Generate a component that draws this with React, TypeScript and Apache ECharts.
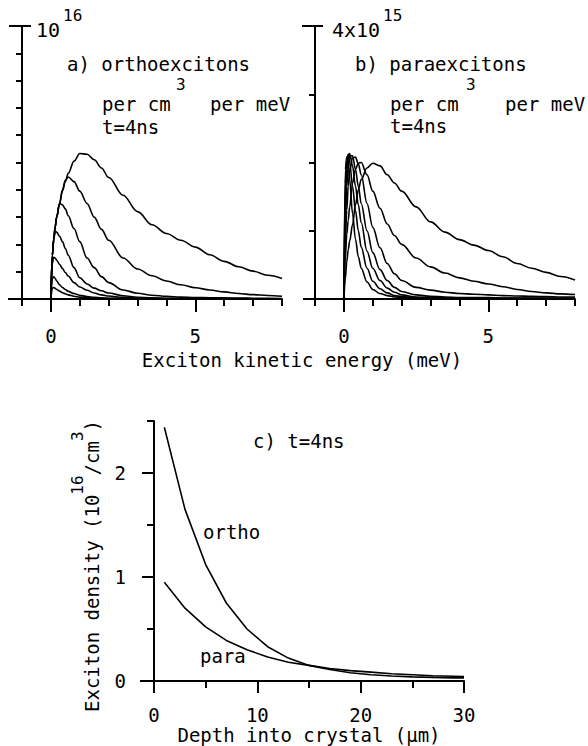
import { useEffect, useRef } from "react";
import * as echarts from "echarts";

// Exciton kinetic energy grid (meV)
const energy = [0, 0.05, 0.1, 0.15, 0.2, 0.3, 0.4, 0.5, 0.6, 0.8, 1, 1.25, 1.5, 1.75, 2, 2.5, 3, 3.5, 4, 4.5, 5, 5.5, 6, 6.5, 7, 7.5, 8];

// a) orthoexcitons, units of 1e15 per cm^3 per meV
const orthoA1 = [0, 1.6, 2.2, 2.65, 3.0, 3.5, 3.95, 4.3, 4.6, 5.05, 5.33, 5.3, 5.1, 4.8, 4.45, 3.8, 3.2, 2.72, 2.4, 2.15, 1.9, 1.62, 1.38, 1.18, 1.02, 0.87, 0.75];
const orthoA2 = [0, 1.6, 2.2, 2.65, 3.0, 3.5, 4.0, 4.35, 4.47, 4.3, 3.95, 3.5, 3.0, 2.55, 2.15, 1.5, 1.1, 0.85, 0.66, 0.52, 0.41, 0.33, 0.26, 0.2, 0.16, 0.13, 0.1];
const orthoA3 = [0, 1.6, 2.2, 2.65, 3.0, 3.5, 3.45, 3.3, 3.05, 2.58, 2.1, 1.5, 1.15, 0.82, 0.6, 0.33, 0.21, 0.14, 0.1, 0.07, 0.055, 0.045, 0.04, 0.035, 0.03, 0.025, 0.02];
const orthoA4 = [0, 1.6, 2.2, 2.48, 2.45, 2.3, 2.1, 1.85, 1.6, 1.15, 0.78, 0.55, 0.4, 0.3, 0.22, 0.12, 0.06, 0.04, 0.03, 0.025, 0.02, 0.02, 0.015, 0.015, 0.01, 0.01, 0.01];
const orthoA5 = [0, 1.3, 1.53, 1.5, 1.42, 1.27, 1.12, 0.97, 0.84, 0.6, 0.44, 0.32, 0.22, 0.15, 0.11, 0.06, 0.03, 0.02, 0.015, 0.01, 0.01, 0.01, 0.01, 0.01, 0.01, 0.01, 0.01];
const orthoA6 = [0, 0.75, 0.81, 0.75, 0.66, 0.52, 0.42, 0.35, 0.28, 0.2, 0.14, 0.09, 0.06, 0.04, 0.03, 0.02, 0.015, 0.01, 0.01, 0.01, 0.008, 0.008, 0.006, 0.006, 0.005, 0.005, 0.005];
const orthoA7 = [0, 0.4, 0.42, 0.39, 0.35, 0.29, 0.23, 0.19, 0.15, 0.1, 0.07, 0.05, 0.03, 0.02, 0.015, 0.01, 0.008, 0.006, 0.005, 0.005, 0.004, 0.004, 0.003, 0.003, 0.003, 0.003, 0.003];

// b) paraexcitons, units of 1e15 per cm^3 per meV
const paraB1 = [0, 0.3, 0.55, 0.72, 0.85, 1.09, 1.38, 1.6, 1.75, 1.92, 1.99, 1.95, 1.82, 1.7, 1.58, 1.35, 1.13, 0.98, 0.87, 0.79, 0.71, 0.62, 0.52, 0.45, 0.39, 0.33, 0.28];
const paraB2 = [0, 0.6, 0.95, 1.15, 1.35, 1.7, 1.9, 1.99, 2.0, 1.82, 1.58, 1.33, 1.1, 0.93, 0.8, 0.6, 0.47, 0.38, 0.31, 0.26, 0.22, 0.18, 0.14, 0.11, 0.09, 0.075, 0.065];
const paraB3 = [0, 0.85, 1.3, 1.65, 1.88, 2.07, 2.08, 1.98, 1.82, 1.4, 1.05, 0.75, 0.52, 0.37, 0.27, 0.17, 0.13, 0.1, 0.08, 0.07, 0.06, 0.05, 0.045, 0.04, 0.035, 0.03, 0.03];
const paraB4 = [0, 1.1, 1.65, 1.95, 2.1, 2.1, 1.9, 1.65, 1.4, 1.0, 0.68, 0.43, 0.27, 0.17, 0.11, 0.06, 0.04, 0.03, 0.02, 0.02, 0.02, 0.015, 0.015, 0.015, 0.01, 0.01, 0.01];
const paraB5 = [0, 1.4, 1.9, 2.1, 2.13, 1.95, 1.65, 1.38, 1.12, 0.7, 0.45, 0.27, 0.16, 0.1, 0.06, 0.03, 0.02, 0.015, 0.01, 0.01, 0.01, 0.01, 0.01, 0.01, 0.01, 0.01, 0.01];
const paraB6 = [0, 1.7, 2.05, 2.12, 2.0, 1.65, 1.3, 1.0, 0.76, 0.45, 0.26, 0.15, 0.09, 0.05, 0.035, 0.02, 0.01, 0.01, 0.008, 0.008, 0.006, 0.006, 0.005, 0.005, 0.005, 0.005, 0.005];
const paraB7 = [0, 1.9, 2.08, 2.0, 1.75, 1.25, 0.88, 0.62, 0.45, 0.25, 0.14, 0.08, 0.05, 0.03, 0.02, 0.01, 0.008, 0.006, 0.005, 0.005, 0.004, 0.004, 0.004, 0.003, 0.003, 0.003, 0.003];

// c) density vs depth (1e16 / cm^3)
const depth = [1, 3, 5, 7, 9, 11, 13, 15, 17, 19, 21, 23, 25, 27, 29, 30];
const orthoDensity = [2.44, 1.65, 1.12, 0.75, 0.5, 0.33, 0.22, 0.15, 0.11, 0.08, 0.06, 0.048, 0.04, 0.035, 0.03, 0.03];
const paraDensity = [0.95, 0.7, 0.52, 0.39, 0.3, 0.23, 0.18, 0.15, 0.12, 0.1, 0.085, 0.07, 0.06, 0.05, 0.045, 0.042];

const energyMajorTicks = [0, 5];
const depthMajorTicks = [0, 10, 20, 30];
const densityMajorTicks = [0, 1, 2];

const orthoSeries = [orthoA1, orthoA2, orthoA3, orthoA4, orthoA5, orthoA6, orthoA7];
const paraSeries = [paraB1, paraB2, paraB3, paraB4, paraB5, paraB6, paraB7];

const FONT = "'DejaVu Sans Mono', monospace";
const INK = "#000";
const FS = 19;

function zip(xs: number[], ys: number[]) {
  return xs.map((x, i) => [x, ys[i]]);
}

function minorXAxis(grid: number, min: number, max: number, interval: number, labels: number[], margin: number) {
  return {
    type: "value", gridIndex: grid, min, max, interval, position: "bottom",
    axisLine: { show: true, onZero: false, lineStyle: { color: INK, width: 2 } },
    axisTick: { show: true, inside: false, length: 7, lineStyle: { color: INK, width: 2 } },
    axisLabel: {
      show: true, margin, color: INK, fontFamily: FONT, fontSize: FS,
      formatter: (v: number) => (labels.indexOf(v) >= 0 ? String(v) : ""),
    },
    splitLine: { show: false },
  };
}
function majorXAxis(grid: number, min: number, max: number, ticks: number[], len: number) {
  return {
    type: "value", gridIndex: grid, min, max, position: "bottom",
    axisLine: { show: false, onZero: false },
    axisTick: { show: true, inside: false, length: len, customValues: ticks, lineStyle: { color: INK, width: 2 } },
    axisLabel: { show: false },
    splitLine: { show: false },
  };
}

const lineStyle = { color: INK, width: 1.6 };

function curve(x: number, y: number, data: number[][], smooth: boolean) {
  return {
    type: "line", xAxisIndex: x, yAxisIndex: y, data, showSymbol: false, symbol: "none",
    smooth: smooth ? 0.35 : false, smoothMonotone: smooth ? "x" : undefined,
    lineStyle, silent: true,
  };
}

const T = (text: string, x: number, y: number, size = FS, extra: any = {}) => ({
  type: "text", x, y, silent: true,
  style: { text, fill: INK, font: `${size}px ${FONT}`, align: "left", verticalAlign: "middle", ...extra },
});
const L = (x1: number, y1: number, x2: number, y2: number) => ({
  type: "line", silent: true, shape: { x1, y1, x2, y2 }, style: { stroke: INK, lineWidth: 2 },
});

export default function App() {
  const ref = useRef<HTMLDivElement>(null);
  useEffect(() => {
    const chart = echarts.init(ref.current!, null, { renderer: "svg" });
    const option: any = {
      animation: false,
      backgroundColor: "#fff",
      grid: [
        { left: 22, top: 26, width: 260, height: 273 },
        { left: 315, top: 26, width: 260, height: 273 },
        { left: 154, top: 421, width: 310, height: 260 },
      ],
      xAxis: [
        minorXAxis(0, -1, 8, 1, energyMajorTicks, 27),
        majorXAxis(0, -1, 8, energyMajorTicks, 13),
        minorXAxis(1, -1, 8, 1, energyMajorTicks, 27),
        majorXAxis(1, -1, 8, energyMajorTicks, 13),
        minorXAxis(2, 0, 30, 5, depthMajorTicks, 24),
        majorXAxis(2, 0, 30, depthMajorTicks, 12),
      ],
      yAxis: [
        {
          type: "value", gridIndex: 0, min: 0, max: 10, interval: 1, position: "left",
          axisLine: { show: true, onZero: false, lineStyle: { color: INK, width: 2 } },
          axisTick: { show: true, length: 6, lineStyle: { color: INK, width: 2 } },
          axisLabel: { show: false }, splitLine: { show: false },
        },
        {
          type: "value", gridIndex: 1, min: 0, max: 4, interval: 1, position: "left",
          axisLine: { show: true, onZero: false, lineStyle: { color: INK, width: 2 } },
          axisTick: { show: true, length: 6, lineStyle: { color: INK, width: 2 } },
          axisLabel: { show: false }, splitLine: { show: false },
        },
        {
          type: "value", gridIndex: 2, min: 0, max: 2.5, interval: 0.5, position: "left",
          axisLine: { show: true, onZero: false, lineStyle: { color: INK, width: 2 } },
          axisTick: { show: true, length: 7, lineStyle: { color: INK, width: 2 } },
          axisLabel: {
            show: true, margin: 28, color: INK, fontFamily: FONT, fontSize: FS,
            formatter: (v: number) => (densityMajorTicks.indexOf(v) >= 0 ? String(v) : ""),
          },
          splitLine: { show: false },
        },
        {
          type: "value", gridIndex: 2, min: 0, max: 2.5, position: "left",
          axisLine: { show: false, onZero: false },
          axisTick: { show: true, length: 12, customValues: densityMajorTicks, lineStyle: { color: INK, width: 2 } },
          axisLabel: { show: false }, splitLine: { show: false },
        },
      ],
      series: [
        ...orthoSeries.map((s) => curve(0, 0, zip(energy, s), true)),
        ...paraSeries.map((s) => curve(2, 1, zip(energy, s), true)),
        curve(4, 2, zip(depth, orthoDensity), false),
        curve(4, 2, zip(depth, paraDensity), false),
      ],
      graphic: [
        // axis end decorations
        L(9, 26, 31, 26),
        L(8, 299, 22, 299),
        L(302, 26, 323, 26),
        L(303, 299, 315, 299),
        L(140, 681, 154, 681),
        // panel a labels
        T("10", 36, 30, 20),
        T("16", 63, 15, 16),
        T("a) orthoexcitons", 67, 64),
        T("per cm", 102, 104),
        T("3", 176, 84, 16),
        T("per meV", 210, 104),
        T("t=4ns", 102, 127),
        // panel b labels
        T("4x10", 332, 30, 20),
        T("15", 383, 15, 16),
        T("b) paraexcitons", 355, 64),
        T("per cm", 390, 104),
        T("3", 466, 84, 16),
        T("per meV", 505, 104),
        T("t=4ns", 390, 126),
        // shared x title
        T("Exciton kinetic energy (meV)", 302, 360, FS, { align: "center" }),
        // panel c labels
        T("c) t=4ns", 253, 441),
        T("ortho", 203, 532),
        T("para", 200, 656),
        T("Depth into crystal (\u03bcm)", 309, 735, FS, { align: "center" }),
        {
          type: "text", x: 101, y: 566, rotation: Math.PI / 2, silent: true,
          style: {
            text: "{n|Exciton density (10}{s|16}{n|/cm}{s|3}{n|)}",
            fill: INK, font: `${FS}px ${FONT}`, align: "center", verticalAlign: "bottom",
            rich: {
              n: { fontFamily: FONT, fontSize: FS, verticalAlign: "bottom", fill: INK },
              s: { fontFamily: FONT, fontSize: 16, verticalAlign: "top", padding: [0, 0, 16, 0], fill: INK },
            },
          },
        },
      ],
    };
    chart.setOption(option);
    return () => chart.dispose();
  }, []);
  return <div ref={ref} style={{ position: "absolute", left: 0, top: 0, width: 588, height: 746 }} />;
}
